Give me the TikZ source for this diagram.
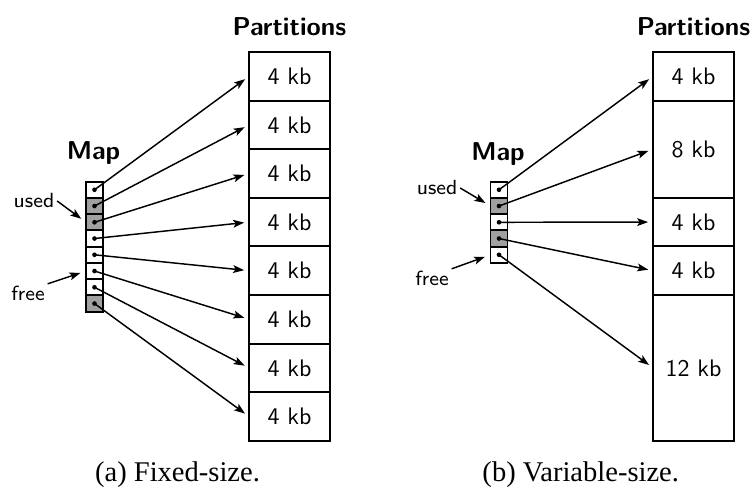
\documentclass[tikz,border=0pt]{standalone}
\usepackage{fontspec}
\setmainfont{Liberation Serif}
\usepackage{xcolor}
\usetikzlibrary{arrows.meta, positioning, calc}

\begin{document}
\begin{tikzpicture}[x=0.41pt, y=0.41pt, font=\sffamily\fontsize{9.8}{12}\selectfont]
  % Define constants
  \def\unith{48.6*0.41pt}   % one 4 kb partition
  \def\cellh{16.25*0.41pt}  % one map entry

  % Define colors
  \definecolor{usedgray}{RGB}{160, 160, 160}

  % Styles
  \tikzset{
    partbox/.style={draw, line width=0.8pt, outer sep=0pt, inner sep=0pt,
      minimum width=81*0.41pt, minimum height=\unith},
    mapcell/.style={draw, line width=0.8pt, outer sep=0pt, inner sep=0pt,
      minimum width=17*0.41pt, minimum height=\cellh, fill=white},
    ptr/.style={line width=0.6pt, -{Stealth[length=4.5pt, width=3.2pt, inset=1pt]},
      shorten >=2pt},
    tag/.style={font=\sffamily\fontsize{8.4}{10}\selectfont, inner sep=1pt},
    heading/.style={font=\sffamily\bfseries\fontsize{10.6}{12}\selectfont, anchor=base},
    caption/.style={font=\rmfamily\fontsize{11.7}{14}\selectfont, anchor=base,
      inner sep=0pt}
  }

  \useasboundingbox (0,0) rectangle (750,488);

  % (a) Fixed-size: partitions, top at y=52
  \node[partbox] (pa1) at (289.5,411.7) {4 kb};
  \foreach \i [evaluate=\i as \k using int(\i-1)] in {2,...,8}
    \node[partbox, below=0pt of pa\k] (pa\i) {4 kb};
  \node[heading] (partA) at (289.5,452) {Partitions};

  % (a) map entries
  \node[mapcell] (ma1) at (94.5,298.2) {};
  \foreach \f [count=\i from 2, evaluate=\i as \k using int(\i-1)] in
      {usedgray,usedgray,white,white,white,white,usedgray}
    \node[mapcell, fill=\f, below=0pt of ma\k] (ma\i) {};
  \node[heading] (mapA) at (93.5,328) {Map};

  % (a) pointers
  \foreach \i in {1,...,8} {
    \draw[ptr] (ma\i.center) -- (pa\i.west);
    \fill (ma\i.center) circle (0.95pt);
  }

  % (a) used / free
  \node[tag] (usedA) at (34,287) {used};
  \node[tag] (freeA) at (28,195) {free};
  \draw[ptr, shorten >=2.4pt] (usedA.east) -- (ma3.west);
  \draw[ptr, shorten >=2.4pt] (freeA.25) -- (ma6.west);

  % (b) Variable-size: partitions
  \node[partbox] (pb1) at (693.5,411.7) {4 kb};
  \node[partbox, minimum height=2*\unith, below=0pt of pb1] (pb2) {8 kb};
  \node[partbox, below=0pt of pb2] (pb3) {4 kb};
  \node[partbox, below=0pt of pb3] (pb4) {4 kb};
  \node[partbox, minimum height=3*\unith, below=0pt of pb4] (pb5) {12 kb};
  \node[heading] (partB) at (693.5,452) {Partitions};

  % (b) map entries
  \node[mapcell] (mb1) at (499,298.2) {};
  \foreach \f [count=\i from 2, evaluate=\i as \k using int(\i-1)] in
      {usedgray,white,usedgray,white}
    \node[mapcell, fill=\f, below=0pt of mb\k] (mb\i) {};
  \node[heading] (mapB) at (498,327) {Map};

  % (b) pointers
  \foreach \i in {1,...,5} {
    \draw[ptr] (mb\i.center) -- (pb\i.west);
    \fill (mb\i.center) circle (0.95pt);
  }

  % (b) used / free
  \node[tag] (usedB) at (437,300) {used};
  \node[tag] (freeB) at (432,210) {free};
  \draw[ptr, shorten >=2.4pt] (usedB.east) -- (mb2.west);
  \draw[ptr, shorten >=2.4pt] (freeB.25) -- (mb5.west);

  % Captions
  \node[caption] (capA) at (177.5,6) {(a) Fixed-size.};
  \node[caption, anchor=base west] (capB) at (482,6) {(b) Variable-size.};

\end{tikzpicture}
\end{document}
